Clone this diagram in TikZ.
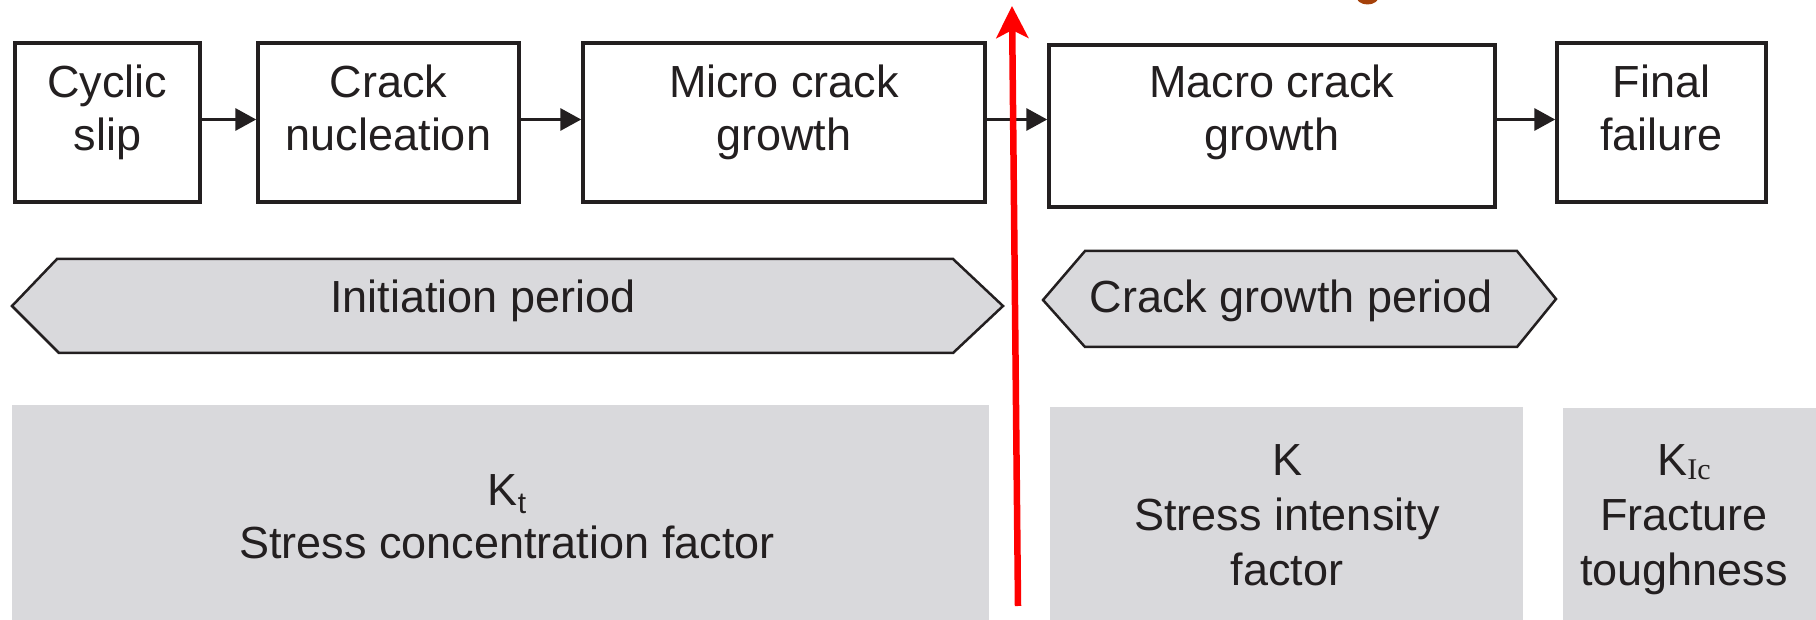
\documentclass[tikz,border=0pt]{standalone}
\usepackage{fontspec}
\setmainfont{Liberation Sans}
\newfontfamily\serifsub{Liberation Serif}
\usetikzlibrary{arrows.meta,calc}
\definecolor{ink}{RGB}{35,31,32}
\definecolor{panel}{RGB}{217,217,220}
\definecolor{redarrow}{RGB}{255,0,0}
\definecolor{blob}{RGB}{165,65,10}
\begin{document}
\begin{tikzpicture}[x=1pt,y=-1pt,
  stagebox/.style={draw=ink, line width=3.5pt, inner sep=0pt, minimum height=159pt},
  flow/.style={draw=ink, line width=3.4pt, -{Triangle[length=21pt,width=22pt]}},
  hexa/.style={draw=ink, line width=2.5pt, fill=panel, line join=miter},
  txt/.style={text=ink, align=center, inner sep=0pt, font=\fontsize{45}{53}\selectfont},
  ktxt/.style={text=ink, align=center, inner sep=0pt, font=\fontsize{45}{55}\selectfont},
  redline/.style={draw=redarrow, line width=6.5pt, -{Stealth[length=32pt,width=32pt,inset=8pt]}}
]
\useasboundingbox (0,0) rectangle (1816,620);

% brown fragment at top edge
\begin{scope}
  \clip (0,0) rectangle (1816,620);
  \fill[blob] (1367.5,-4) ellipse [x radius=11.5, y radius=8.5];
\end{scope}

% stage boxes
\node[stagebox, minimum width=185pt] (cs) at (107.5,122.5) {};
\node[stagebox, minimum width=261pt] (cn) at (388.5,122.5) {};
\node[stagebox, minimum width=402pt] (mc) at (784,122.5) {};
\node[stagebox, minimum width=446pt, minimum height=162pt] (Mc) at (1272,126) {};
\node[stagebox, minimum width=209pt] (ff) at (1661.5,122.5) {};

\node[txt] (tcs) at (107.5,113) {\strut Cyclic\\\strut slip};
\node[txt] (tcn) at (388.5,113) {\strut Crack\\\strut nucleation};
\node[txt] (tmc) at (784,113) {\strut Micro crack\\\strut growth};
\node[txt] (tMc) at (1272,113) {\strut Macro crack\\\strut growth};
\node[txt] (tff) at (1661.5,113) {\strut Final\\\strut failure};

\draw[flow] ($(cs.east)+(0,-3)$) -- ($(cs.east -| cn.west)+(0,-3)$);
\draw[flow] ($(cn.east)+(0,-3)$) -- ($(cn.east -| mc.west)+(0,-3)$);
\draw[flow] ($(mc.east)+(0,-3)$) -- ($(mc.east -| Mc.west)+(0,-3)$);
\draw[flow] ($(ff.west -| Mc.east)+(0,-3)$) -- ($(ff.west)+(0,-3)$);

% period hexagons
\draw[hexa] (12,306) -- (57,259) -- (953,259) -- (1003,306) -- (953,353) -- (59,353) -- cycle;
\draw[hexa] (1043,300) -- (1085,251) -- (1517,251) -- (1556,299) -- (1517,347) -- (1085,347) -- cycle;
\node[txt] (init) at (483,301.5) {\strut Initiation period};
\node[txt] (cgp) at (1291,302) {\strut Crack growth period};

% parameter panels
\fill[panel] (12,405) rectangle (989,620);
\fill[panel] (1050,407) rectangle (1523,620);
\fill[panel] (1563,408) rectangle (1816,620);

\node[txt] (kt) at (507,521) {\strut K\raisebox{-8pt}{\fontsize{30}{30}\selectfont t}\\\strut Stress concentration factor};
\node[ktxt] (k) at (1287,519) {\strut K\\\strut Stress intensity\\\strut factor};
\node[ktxt] (kic) at (1684,519) {\strut K\raisebox{-4pt}{\fontsize{30}{30}\serifsub Ic}\\\strut Fracture\\\strut toughness};

% red arrow
\coordinate (rbot) at (1018,606);
\coordinate (rtop) at (1012,6);
\draw[redline] (rbot) -- (rtop);
\end{tikzpicture}
\end{document}
